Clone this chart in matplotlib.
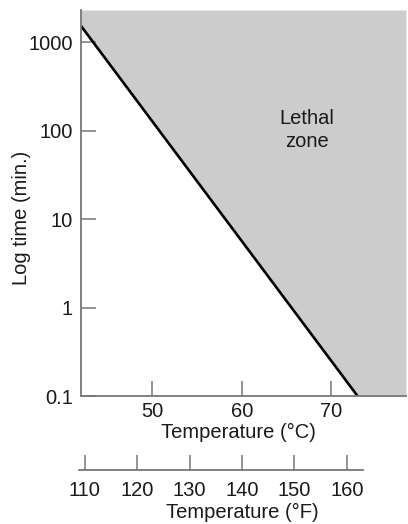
import matplotlib
matplotlib.use("Agg")
import matplotlib.pyplot as plt

plt.rcParams['font.family'] = ['Liberation Sans', 'DejaVu Sans']

# boundary of the lethal zone (°C vs minutes)
line_temp_c = [42.1, 72.9]
line_time = [1520, 0.1]
zone_temp_c = [42.1, 72.9, 78.3]
zone_time = [1520, 0.1, 0.1]

c_ticks = [50, 60, 70]
time_ticks = [0.1, 1, 10, 100, 1000]
time_labels = ['0.1', '1', '10', '100', '1000']
f_ticks = [110, 120, 130, 140, 150, 160]

xlim_c = (42.1, 78.3)
ylim_t = (0.1, 2300)
xlim_f = (108.9, 163.1)

spine_col = '#777777'
text_col = '#1a1a1a'
fs = 14.5

W, H = 408, 524
fig = plt.figure(figsize=(W / 100, H / 100), dpi=100)
ax = fig.add_axes([81 / W, 1 - 396 / H, 325 / W, 386 / H])

ax.fill_between(zone_temp_c, zone_time, ylim_t[1], color='#cccccc', lw=0)
ax.plot(line_temp_c, line_time, color='black', lw=1.9, solid_capstyle='butt')

ax.set_yscale('log')
ax.set_xlim(*xlim_c)
ax.set_ylim(*ylim_t)
ax.set_yticks(time_ticks)
ax.set_yticklabels(time_labels)
ax.minorticks_off()
ax.set_xticks(c_ticks)

for s in ['top', 'right']:
    ax.spines[s].set_visible(False)
for s in ['left', 'bottom']:
    ax.spines[s].set_color(spine_col)
    ax.spines[s].set_linewidth(1.3)

ax.tick_params(axis='both', direction='in', length=10.5, width=1.1, color=spine_col,
               labelsize=fs, labelcolor=text_col)
ax.tick_params(axis='y', pad=6)
ax.tick_params(axis='x', pad=4)

ax.set_xlabel('Temperature (°C)', fontsize=fs, color=text_col)
ax.xaxis.set_label_coords((238 - 81) / 325, -(423 - 396) / 386)
ax.set_ylabel('Log time (min.)', fontsize=fs, color=text_col)
ax.yaxis.set_label_coords((31 - 81) / 325, (396 - 218) / 386)

fig.text(307 / W, 1 - 130 / H, 'Lethal\nzone', fontsize=fs, color=text_col,
         ha='center', va='center', linespacing=1.3)

# Fahrenheit scale
axf = fig.add_axes([79 / W, 1 - 470 / H, 284 / W, 0.001])
axf.set_facecolor('none')
axf.set_xlim(*xlim_f)
axf.set_xticks(f_ticks)
axf.set_yticks([])
for s in ['top', 'left', 'right']:
    axf.spines[s].set_visible(False)
axf.spines['bottom'].set_color(spine_col)
axf.spines['bottom'].set_linewidth(1.3)
axf.tick_params(axis='x', direction='in', length=10.5, width=1.1, color=spine_col,
                labelsize=fs, labelcolor=text_col, pad=8)
axf.set_xlabel('Temperature (°F)', fontsize=fs, color=text_col)
axf.xaxis.set_label_coords((242 - 79) / 284, -(503 - 470) / (0.001 * H))

fig.savefig('out.png', dpi=100)
